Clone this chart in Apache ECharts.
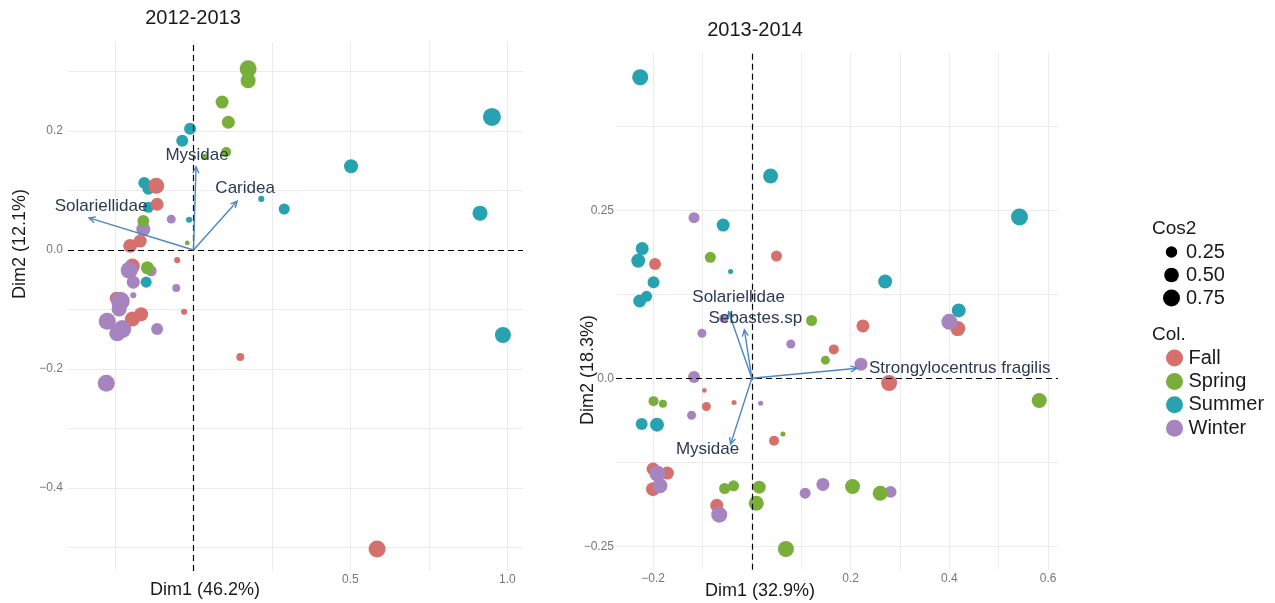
<!DOCTYPE html>
<html>
<head>
<meta charset="utf-8">
<script src="https://cdn.jsdelivr.net/npm/echarts@6/dist/echarts.min.js"></script>
<style>
  html, body { margin: 0; padding: 0; background: #ffffff; }
  #chart { width: 1275px; height: 603px; }
</style>
</head>
<body>
<div id="chart"></div>
<script>
// Individuals: [Dim1, Dim2, cos2]
const fall1213 = [
  [0.149, -0.180, 0.07], [0.585, -0.503, 0.75], [-0.119, 0.108, 0.64], [-0.116, 0.077, 0.36],
  [-0.170, 0.015, 0.36], [-0.202, 0.007, 0.44], [-0.052, -0.017, 0.02], [-0.195, -0.027, 0.54],
  [-0.246, -0.081, 0.36], [-0.030, -0.104, 0.02], [-0.167, -0.108, 0.44], [-0.195, -0.116, 0.54]
];
const spring1213 = [
  [0.174, 0.305, 0.75], [0.174, 0.285, 0.54], [0.091, 0.249, 0.36], [0.111, 0.215, 0.36],
  [0.104, 0.165, 0.16], [0.037, 0.157, 0.02], [-0.160, 0.049, 0.28], [-0.020, 0.012, 0.003],
  [-0.147, -0.030, 0.36]
];
const summer1213 = [
  [-0.011, 0.204, 0.28], [-0.036, 0.184, 0.28], [0.216, 0.086, 0.02], [0.289, 0.069, 0.22],
  [0.951, 0.224, 0.87], [0.502, 0.141, 0.44], [0.913, 0.062, 0.54], [0.986, -0.143, 0.64],
  [-0.157, 0.113, 0.28], [-0.144, 0.103, 0.28], [-0.144, 0.072, 0.22], [-0.014, 0.051, 0.02],
  [-0.151, -0.054, 0.22]
];
const winter1213 = [
  [-0.278, -0.224, 0.75], [-0.071, 0.052, 0.11], [-0.160, 0.035, 0.44], [-0.205, -0.034, 0.75],
  [-0.135, -0.035, 0.22], [-0.192, -0.054, 0.36], [-0.055, -0.064, 0.07], [-0.192, -0.076, 0.02],
  [-0.233, -0.086, 0.95], [-0.237, -0.099, 0.54], [-0.275, -0.120, 0.75], [-0.227, -0.133, 0.87],
  [-0.243, -0.140, 0.64], [-0.116, -0.133, 0.28]
];

const fall1314 = [
  [-0.196, 0.170, 0.28], [0.050, 0.182, 0.22], [0.225, 0.078, 0.36], [0.417, 0.074, 0.54],
  [0.166, 0.043, 0.16], [0.278, -0.007, 0.64], [-0.096, -0.018, 0.002], [-0.092, -0.042, 0.11],
  [-0.036, -0.036, 0.005], [0.045, -0.093, 0.16], [-0.200, -0.135, 0.36], [-0.171, -0.141, 0.36],
  [-0.200, -0.165, 0.44], [-0.071, -0.189, 0.36]
];
const spring1314 = [
  [-0.084, 0.180, 0.22], [0.121, 0.086, 0.22], [0.149, 0.027, 0.11], [0.582, -0.033, 0.54],
  [-0.199, -0.034, 0.16], [-0.180, -0.038, 0.07], [0.063, -0.083, 0.005], [-0.055, -0.164, 0.22],
  [-0.037, -0.160, 0.22], [0.015, -0.162, 0.36], [0.009, -0.186, 0.54], [0.204, -0.161, 0.54],
  [0.260, -0.171, 0.54], [0.069, -0.254, 0.64]
];
const summer1314 = [
  [-0.226, 0.448, 0.64], [0.038, 0.301, 0.54], [-0.058, 0.228, 0.36], [0.542, 0.240, 0.75],
  [-0.222, 0.193, 0.36], [-0.230, 0.175, 0.44], [-0.043, 0.159, 0.005], [-0.199, 0.143, 0.28],
  [0.270, 0.144, 0.44], [-0.213, 0.122, 0.22], [-0.227, 0.115, 0.36], [0.419, 0.101, 0.44],
  [-0.223, -0.068, 0.28], [-0.192, -0.069, 0.44]
];
const winter1314 = [
  [-0.117, 0.239, 0.22], [-0.101, 0.067, 0.11], [-0.057, 0.089, 0.11], [0.400, 0.084, 0.64],
  [0.079, 0.051, 0.11], [0.221, 0.021, 0.36], [-0.117, 0.002, 0.28], [0.018, -0.037, 0.005],
  [-0.122, -0.055, 0.11], [-0.191, -0.142, 0.64], [-0.186, -0.160, 0.54], [-0.066, -0.203, 0.64],
  [0.108, -0.171, 0.22], [0.144, -0.158, 0.36], [0.281, -0.169, 0.28]
];

// Variable loadings (arrow tips)
const vars1213 = [
  { name: 'Mysidae', x: 0.008, y: 0.140 },
  { name: 'Caridea', x: 0.139, y: 0.082 },
  { name: 'Solariellidae', x: -0.333, y: 0.054 }
];
const vars1314 = [
  { name: 'Solariellidae', x: -0.047, y: 0.099 },
  { name: 'Sebastes.sp', x: -0.015, y: 0.072 },
  { name: 'Strongylocentrus fragilis', x: 0.213, y: 0.015 },
  { name: 'Mysidae', x: -0.043, y: -0.098 }
];

// Axis breaks
const gridX1213 = [-0.25, 0, 0.25, 0.5, 0.75, 1.0];
const gridY1213 = [-0.5, -0.4, -0.3, -0.2, -0.1, 0, 0.1, 0.2, 0.3];
const labelX1213 = [0.5, 1.0];
const labelY1213 = [-0.4, -0.2, 0, 0.2];
const gridX1314 = [-0.2, -0.1, 0, 0.1, 0.2, 0.3, 0.4, 0.5, 0.6];
const gridY1314 = [-0.25, -0.125, 0, 0.125, 0.25, 0.375];
const labelX1314 = [-0.2, 0.2, 0.4, 0.6];
const labelY1314 = [-0.25, 0, 0.25];
const cos2Breaks = [0.25, 0.50, 0.75];
const seasons = ['Fall', 'Spring', 'Summer', 'Winter'];

const COLORS = { Fall: '#D6706C', Spring: '#79AE3A', Summer: '#27A2B1', Winter: '#A584BF' };
const ARROW = '#4A87C3';
const VARTEXT = '#2B3A55';
const FONT = '"Liberation Sans", Arial, Helvetica, sans-serif';

// label placement of each variable name relative to its arrow tip (pixels)
const varLabelPlace = {
  p0: {
    'Mysidae': { dx: 1, dy: -12, align: 'center' },
    'Caridea': { dx: 8, dy: -13, align: 'center' },
    'Solariellidae': { dx: 12, dy: -12, align: 'center' }
  },
  p1: {
    'Solariellidae': { dx: 10, dy: -14, align: 'center' },
    'Sebastes.sp': { dx: 11, dy: -12, align: 'center' },
    'Strongylocentrus fragilis': { dx: 12, dy: 0, align: 'left' },
    'Mysidae': { dx: -23, dy: 5, align: 'center' }
  }
};

const sizeOf = c => 4 + 15 * Math.sqrt(Math.max(c, 0));

function minusFmt(v, digits) {
  const s = Math.abs(v).toFixed(digits);
  return v < -1e-9 ? '\u2212' + s : s;
}

function xAxisCfg(gi, min, max, grid, labels, digits) {
  return {
    gridIndex: gi, type: 'value', min: min, max: max,
    axisLine: { show: false },
    axisTick: { show: false, customValues: grid },
    splitLine: { show: true, lineStyle: { color: '#ebebeb', width: 1 } },
    axisLabel: {
      customValues: labels, color: '#777777', fontSize: 12, fontFamily: FONT, margin: 3,
      formatter: v => minusFmt(v, digits)
    }
  };
}
function yAxisCfg(gi, min, max, grid, labels, fmt, margin) {
  return {
    gridIndex: gi, type: 'value', min: min, max: max,
    axisLine: { show: false },
    axisTick: { show: false, customValues: grid },
    splitLine: { show: true, lineStyle: { color: '#ebebeb', width: 1 } },
    axisLabel: { customValues: labels, color: '#777777', fontSize: 12, fontFamily: FONT, margin: margin, formatter: fmt }
  };
}

function pointSeries(name, data, gi) {
  return {
    name: name, type: 'scatter', xAxisIndex: gi, yAxisIndex: gi,
    data: data, clip: false, z: 2,
    symbolSize: v => sizeOf(v[2]),
    itemStyle: { color: COLORS[name], opacity: 1 },
    emphasis: { disabled: true }
  };
}

function arrowSeries(vars, gi, place) {
  return {
    type: 'custom', xAxisIndex: gi, yAxisIndex: gi, z: 6, silent: true,
    data: vars.map(v => [v.x, v.y]),
    renderItem(params, api) {
      const o = api.coord([0, 0]);
      const t = api.coord([api.value(0), api.value(1)]);
      const ang = Math.atan2(t[1] - o[1], t[0] - o[0]);
      const L = 7, A = Math.PI / 7;
      const p1 = [t[0] - L * Math.cos(ang - A), t[1] - L * Math.sin(ang - A)];
      const p2 = [t[0] - L * Math.cos(ang + A), t[1] - L * Math.sin(ang + A)];
      const name = vars[params.dataIndex].name;
      const lp = place[name];
      return {
        type: 'group',
        children: [
          { type: 'line', shape: { x1: o[0], y1: o[1], x2: t[0], y2: t[1] }, style: { stroke: ARROW, lineWidth: 1.4 } },
          { type: 'polyline', shape: { points: [p1, t, p2] }, style: { stroke: ARROW, lineWidth: 1.4, fill: null } },
          { type: 'text', x: t[0] + lp.dx, y: t[1] + lp.dy,
            style: { text: name, fill: VARTEXT, font: '17px ' + FONT, align: lp.align, verticalAlign: 'middle' } }
        ]
      };
    }
  };
}

function originLines(gi) {
  return {
    type: 'scatter', xAxisIndex: gi, yAxisIndex: gi, data: [], z: 5, silent: true,
    markLine: {
      silent: true, symbol: 'none', label: { show: false },
      lineStyle: { color: '#000000', type: [6, 4], width: 1.2 },
      emphasis: { disabled: true },
      data: [{ xAxis: 0 }, { yAxis: 0 }]
    }
  };
}

const chart = echarts.init(document.getElementById('chart'), null, { renderer: 'canvas' });

const series = [];
const drawOrder = ['Summer', 'Fall', 'Winter', 'Spring'];
const panel0 = { Fall: fall1213, Spring: spring1213, Summer: summer1213, Winter: winter1213 };
const panel1 = { Fall: fall1314, Spring: spring1314, Summer: summer1314, Winter: winter1314 };
drawOrder.forEach(s => series.push(pointSeries(s, panel0[s], 0)));
drawOrder.forEach(s => series.push(pointSeries(s, panel1[s], 1)));
series.push(originLines(0), originLines(1));
series.push(arrowSeries(vars1213, 0, varLabelPlace.p0));
series.push(arrowSeries(vars1314, 1, varLabelPlace.p1));

const txt = (x, y, text, size, extra) => Object.assign({
  type: 'text', x: x, y: y, silent: true,
  style: Object.assign({ text: text, font: size + 'px ' + FONT, fill: '#1a1a1a', align: 'center', verticalAlign: 'middle' }, extra || {})
});

const graphics = [
  txt(193, 18, '2012-2013', 20),
  txt(755, 30, '2013-2014', 20),
  txt(205, 590, 'Dim1 (46.2%)', 18),
  txt(760, 591, 'Dim1 (32.9%)', 18),
  Object.assign(txt(0, 0, 'Dim2 (12.1%)', 18), { x: 20, y: 244, rotation: Math.PI / 2 }),
  Object.assign(txt(0, 0, 'Dim2 (18.3%)', 18), { x: 588, y: 370, rotation: Math.PI / 2 }),
  txt(1152, 229, 'Cos2', 19, { align: 'left' }),
  txt(1152, 335, 'Col.', 19, { align: 'left' })
];
const cos2Rows = [252, 275, 298];
cos2Breaks.forEach((c, i) => {
  graphics.push({ type: 'circle', silent: true, shape: { cx: 1171.5, cy: cos2Rows[i], r: sizeOf(c) / 2 }, style: { fill: '#000000' } });
  graphics.push(txt(1186, cos2Rows[i], c.toFixed(2), 20, { align: 'left' }));
});

chart.setOption({
  animation: false,
  backgroundColor: '#ffffff',
  grid: [
    { left: 68, top: 42, width: 455, height: 529, outerBoundsMode: 'none' },
    { left: 616, top: 52.4, width: 442, height: 517.4, outerBoundsMode: 'none' }
  ],
  xAxis: [
    xAxisCfg(0, -0.4, 1.05, gridX1213, labelX1213, 1),
    xAxisCfg(1, -0.275, 0.62, gridX1314, labelX1314, 1)
  ],
  yAxis: [
    yAxisCfg(0, -0.54, 0.35, gridY1213, labelY1213, v => minusFmt(v, 1), 5),
    yAxisCfg(1, -0.285, 0.485, gridY1314, labelY1314, v => (Math.abs(v) < 1e-9 ? '0.0' : minusFmt(v, 2)), 2)
  ],
  legend: {
    data: seasons, orient: 'vertical', left: 1161, top: 343,
    icon: 'circle', itemWidth: 18, itemHeight: 17, itemGap: 3.4,
    selectedMode: false,
    textStyle: { fontSize: 20, color: '#1a1a1a', fontFamily: FONT, lineHeight: 17 }
  },
  graphic: graphics,
  series: series
});
</script>
</body>
</html>
